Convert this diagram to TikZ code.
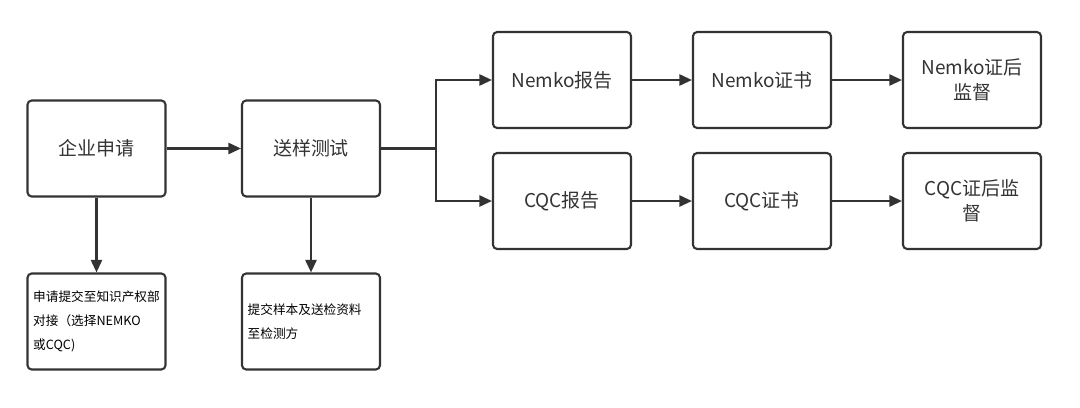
\documentclass[tikz,border=0pt]{standalone}
\usepackage{fontspec}
\setmainfont{Noto Sans CJK SC}
\definecolor{flowgray}{RGB}{51,51,51}
\usetikzlibrary{arrows.meta,positioning}

\begin{document}
\begin{tikzpicture}[x=0.025cm, y=-0.025cm,
    stepbox/.style={draw=flowgray, line width=1.5pt, rounded corners=3pt,
      minimum width=3.45cm, minimum height=2.4cm, inner sep=2pt,
      align=center, text=flowgray, font=\fontsize{13.5}{18}\selectfont},
    notebox/.style={stepbox, align=left, text width=90pt, text=black,
      font=\fontsize{9}{17}\selectfont},
    flow/.style={draw=flowgray, line width=1.5pt,
      -{Triangle[length=9pt,width=8pt]}}]
  \useasboundingbox (0,0) rectangle (1080,408);

  % Left part: application and sample
  \node[stepbox] (apply) at (96.5,148.5) {企业申请};
  \node[stepbox] (sample) at (311,148.5) {送样测试};
  \node[notebox] (applynote) at (96.5,321.5)
    {申请提交至知识产权部\\对接（选择NEMKO\\或CQC)};
  \node[notebox] (samplenote) at (311,321.5)
    {提交样本及送检资料\\至检测方};

  % Upper row: Nemko
  \node[stepbox] (nreport) at (562,80) {Nemko报告};
  \node[stepbox] (ncert) at (762,80) {Nemko证书};
  \node[stepbox] (nsuper) at (972,80) {Nemko证后\\监督};

  % Lower row: CQC
  \node[stepbox] (creport) at (562,201) {CQC报告};
  \node[stepbox] (ccert) at (762,201) {CQC证书};
  \node[stepbox] (csuper) at (972,201) {CQC证后监\\督};

  % Connectors
  \coordinate (fork) at (436,148.5);
  \draw[flow] (apply) -- (sample);
  \draw[flow] (apply) -- (applynote);
  \draw[flow] (sample) -- (samplenote);
  \draw[draw=flowgray, line width=1.5pt] (sample.east) -- (fork);
  \draw[flow] (fork) |- (nreport.west);
  \draw[flow] (fork) |- (creport.west);
  \foreach \a/\b in {nreport/ncert, ncert/nsuper, creport/ccert, ccert/csuper}{
    \draw[flow] (\a) -- (\b);
  }
\end{tikzpicture}
\end{document}
